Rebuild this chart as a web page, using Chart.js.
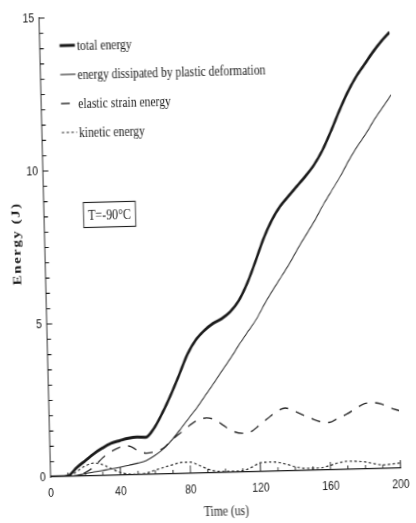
<!DOCTYPE html>
<html>
<head>
<meta charset="utf-8">
<title>Energy vs time</title>
<script src="https://cdn.jsdelivr.net/npm/chart.js@4.4.1/dist/chart.umd.min.js"></script>
<style>
  html, body { margin: 0; padding: 0; background: #fff; overflow: hidden; }
  #wrap { position: relative; width: 416px; height: 523px; overflow: hidden; background: #fff; }
  /* the plot is drawn wide, then squeezed and tilted a little like the printed figure */
  #energyChart {
    position: absolute; left: -12.5px; top: 0;
    width: 520px; height: 523px;
    transform-origin: 62.5px 477px;
    transform: rotate(-1.45deg) scaleX(0.8);
  }
</style>
</head>
<body>
<div id="wrap"><canvas id="energyChart" width="520" height="523"></canvas></div>
<script>
// time in microseconds
const timeUs = [0, 5, 10, 15, 20, 25, 30, 35, 40, 45, 50, 55, 60, 65, 70, 75, 80, 85, 90, 95,
  100, 105, 110, 115, 120, 125, 130, 135, 140, 145, 150, 155, 160, 165, 170, 175, 180, 185, 190, 195, 200];

// energies in J
const totalEnergy = [0, 0, 0.02, 0.28, 0.5, 0.72, 0.9, 1.05, 1.13, 1.2,
  1.23, 1.22, 1.52, 2.02, 2.6, 3.24, 3.9, 4.36, 4.66, 4.88,
  5.03, 5.25, 5.6, 6.15, 6.85, 7.6, 8.2, 8.65, 8.98, 9.3,
  9.62, 9.98, 10.45, 11.05, 11.7, 12.3, 12.8, 13.2, 13.6, 13.95, 14.25];
const plasticEnergy = [0, 0, 0, 0.03, 0.08, 0.13, 0.17, 0.21, 0.26, 0.32,
  0.38, 0.46, 0.62, 0.83, 1.12, 1.46, 1.82, 2.17, 2.57, 2.96,
  3.37, 3.77, 4.2, 4.6, 5.0, 5.5, 5.95, 6.38, 6.82, 7.3,
  7.75, 8.2, 8.7, 9.15, 9.6, 10.1, 10.55, 10.95, 11.4, 11.8, 12.2];
const elasticEnergy = [0, 0, 0, 0.02, 0.12, 0.3, 0.58, 0.78, 0.91, 0.95,
  0.8, 0.7, 0.74, 0.85, 1.12, 1.34, 1.56, 1.74, 1.8, 1.73,
  1.52, 1.34, 1.27, 1.31, 1.52, 1.74, 1.95, 2.06, 1.96, 1.82,
  1.69, 1.58, 1.55, 1.68, 1.81, 1.97, 2.13, 2.16, 2.11, 1.98, 1.88];
const kineticEnergy = [0, 0, 0, 0.15, 0.33, 0.42, 0.36, 0.22, 0.09, 0.03,
  0.02, 0.05, 0.14, 0.22, 0.3, 0.37, 0.37, 0.26, 0.13, 0.05,
  0.04, 0.04, 0.05, 0.15, 0.29, 0.31, 0.29, 0.22, 0.13, 0.08,
  0.07, 0.08, 0.15, 0.23, 0.27, 0.26, 0.23, 0.17, 0.12, 0.14, 0.17];

const seriesLabels = ["total energy", "energy dissipated by plastic deformation",
  "elastic strain energy", "kinetic energy"];

const xTickValues = [0, 40, 80, 120, 160, 200];
const yTickValues = [0, 5, 10, 15];
const xMinorStep = 10;
const yMinorStep = 0.5;

const xTitle = "Time (us)";
const yTitle = "Energy (J)";
const tempNote = "T=-90°C";

const INK = "#1c1c1c";
const SERIF = '"Liberation Serif", "DejaVu Serif", serif';
const SANS = '"Liberation Sans", Arial, sans-serif';

function points(values) {
  return values.map((v, i) => ({ x: timeUs[i], y: v }));
}

// ticks point into the plot, long ones at the labelled values
const inwardTicks = {
  id: "inwardTicks",
  afterDraw(chart) {
    const { ctx, chartArea, scales: { x, y } } = chart;
    ctx.save();
    ctx.strokeStyle = INK;
    ctx.lineWidth = 1.1;
    ctx.beginPath();
    for (let t = x.min + xMinorStep; t <= x.max + 1e-6; t += xMinorStep) {
      const px = x.getPixelForValue(t);
      const len = xTickValues.includes(Math.round(t)) ? 8 : 4;
      ctx.moveTo(px, chartArea.bottom);
      ctx.lineTo(px, chartArea.bottom - len);
    }
    for (let e = y.min + yMinorStep; e <= y.max + 1e-6; e += yMinorStep) {
      const py = y.getPixelForValue(e);
      const len = yTickValues.includes(Math.round(e * 10) / 10) ? 7 : 5;
      ctx.moveTo(chartArea.left, py);
      ctx.lineTo(chartArea.left + len, py);
    }
    ctx.stroke();
    ctx.restore();
  }
};

// legend in the upper left corner, the note box and the spaced y title
const figureText = {
  id: "figureText",
  afterDraw(chart) {
    const { ctx, chartArea } = chart;
    const left = chartArea.left;
    ctx.save();

    chart.data.datasets.forEach((ds, i) => {
      const yy = chartArea.top + 28 + i * 29;
      ctx.strokeStyle = ds.borderColor;
      ctx.lineWidth = ds.borderWidth;
      ctx.setLineDash(ds.borderDash || []);
      ctx.beginPath();
      ctx.moveTo(left + 25, yy);
      ctx.lineTo(left + 44, yy);
      ctx.stroke();
      ctx.setLineDash([]);
      ctx.fillStyle = INK;
      ctx.font = "14.5px " + SERIF;
      ctx.textAlign = "left";
      ctx.textBaseline = "middle";
      ctx.fillText(ds.label, left + 46.5, yy + 1);
    });

    // temperature note
    const cx = left + 82, cy = chartArea.top + 198;
    ctx.strokeStyle = INK;
    ctx.lineWidth = 1.1;
    ctx.strokeRect(cx - 32.5, cy - 12.5, 65, 25);
    ctx.font = "15px " + SERIF;
    ctx.textAlign = "center";
    ctx.fillText(tempNote, cx, cy + 1);

    // y axis title, letter spaced
    ctx.translate(28.5, 243);
    ctx.rotate(-Math.PI / 2);
    ctx.font = "bold 15px " + SERIF;
    ctx.letterSpacing = "1.5px";
    ctx.textAlign = "center";
    ctx.fillText(yTitle, 0, 0);
    ctx.restore();
  }
};

new Chart(document.getElementById("energyChart"), {
  type: "line",
  data: {
    datasets: [
      { label: seriesLabels[0], data: points(totalEnergy), borderColor: "#1a1a1a", borderWidth: 3 },
      { label: seriesLabels[1], data: points(plasticEnergy), borderColor: "#262626", borderWidth: 1.1 },
      { label: seriesLabels[2], data: points(elasticEnergy), borderColor: "#262626", borderWidth: 1.4, borderDash: [11, 10] },
      { label: seriesLabels[3], data: points(kineticEnergy), borderColor: "#262626", borderWidth: 1.2, borderDash: [3, 3] }
    ]
  },
  options: {
    responsive: false,
    animation: false,
    devicePixelRatio: 1,
    layout: { padding: { left: 0, right: 12.5, top: 18, bottom: 0 } },
    elements: {
      point: { radius: 0 },
      line: { cubicInterpolationMode: "monotone", fill: false }
    },
    plugins: {
      legend: { display: false },
      tooltip: { enabled: false }
    },
    scales: {
      x: {
        type: "linear",
        min: 0,
        max: 200,
        afterFit: s => { s.height = 46; },
        afterBuildTicks: s => { s.ticks = xTickValues.map(v => ({ value: v })); },
        grid: { display: false, drawTicks: false },
        border: { display: true, color: INK, width: 1.2 },
        ticks: { color: INK, font: { family: SANS, size: 13 }, padding: 9, maxRotation: 0 },
        title: { display: true, text: xTitle, color: INK, font: { family: SERIF, size: 14.5, lineHeight: 1 }, padding: 0 }
      },
      y: {
        min: 0,
        max: 15,
        afterFit: s => { s.width = 62.5; },
        afterBuildTicks: s => { s.ticks = yTickValues.map(v => ({ value: v })); },
        grid: { display: false, drawTicks: false },
        border: { display: true, color: INK, width: 1.2 },
        ticks: { color: INK, font: { family: SANS, size: 13 }, padding: 6 }
      }
    }
  },
  plugins: [inwardTicks, figureText]
});
</script>
</body>
</html>
